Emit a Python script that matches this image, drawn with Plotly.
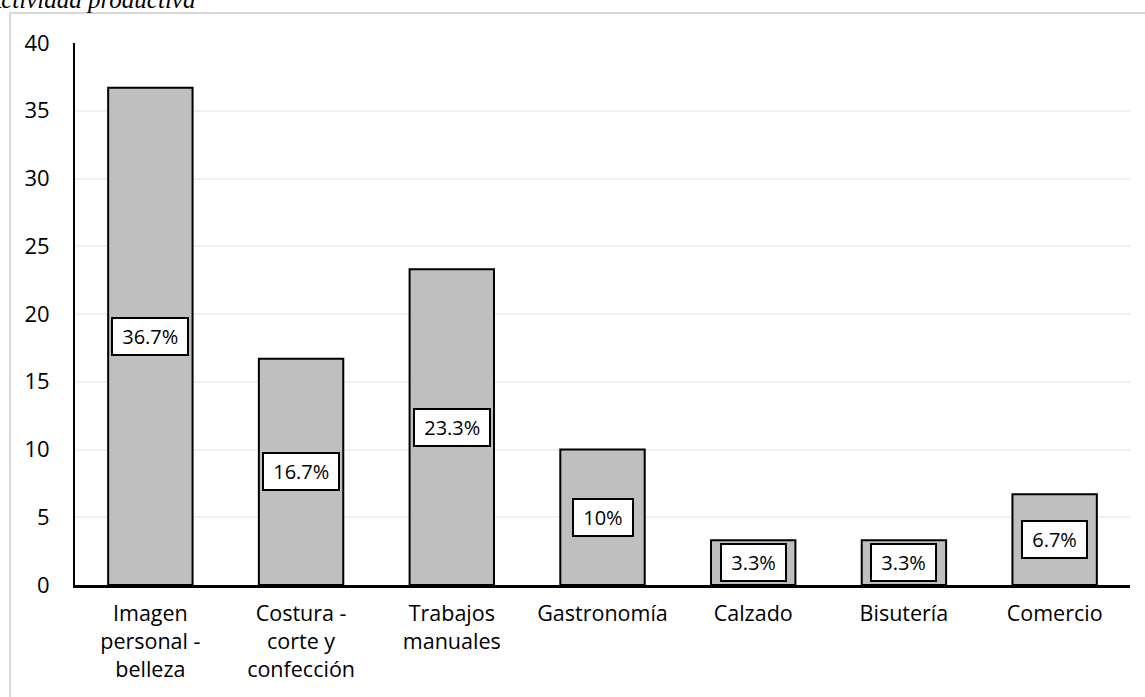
import plotly.graph_objects as go

categories = ["Imagen<br>personal -<br>belleza", "Costura -<br>corte y<br>confección",
              "Trabajos<br>manuales", "Gastronomía", "Calzado", "Bisutería", "Comercio"]
values = [36.7, 16.7, 23.3, 10, 3.3, 3.3, 6.7]
labels = ["36.7%", "16.7%", "23.3%", "10%", "3.3%", "3.3%", "6.7%"]
y_ticks = [0, 5, 10, 15, 20, 25, 30, 35, 40]
title_text = "Actividad productiva"

FONT = "Open Sans"

fig = go.Figure()
fig.add_trace(go.Bar(
    x=categories, y=values,
    marker=dict(color="#bfbfbf", line=dict(color="#000000", width=2)),
    width=0.56,
    hoverinfo="skip",
))

for c, v, t in zip(categories, values, labels):
    fig.add_annotation(
        x=c, y=v / 2, xref="x", yref="y", text="\u00a0" + t + "\u00a0", showarrow=False,
        font=dict(family=FONT, size=20, color="#000000"),
        bgcolor="#ffffff", bordercolor="#000000", borderwidth=2, borderpad=4,
    )

fig.add_annotation(
    xref="paper", yref="paper", x=-0.088, y=1.0517, xanchor="left", yanchor="bottom",
    text="<i>" + title_text + "</i>", showarrow=False,
    font=dict(family="Liberation Serif", size=25, color="#000000"),
)

fig.add_shape(type="rect", xref="paper", yref="paper",
              x0=-0.0616, y0=-0.3, x1=1.2, y1=1.0554,
              line=dict(color="#d9d9d9", width=2), fillcolor="rgba(0,0,0,0)", layer="below")

fig.update_layout(
    width=1145, height=697,
    margin=dict(l=75, r=15, t=43, b=112),
    paper_bgcolor="#ffffff", plot_bgcolor="#ffffff",
    showlegend=False,
    font=dict(family=FONT, size=21, color="#000000"),
    xaxis=dict(showline=True, linecolor="#000000", linewidth=3, showgrid=False,
               ticks="outside", ticklen=7, tickcolor="rgba(0,0,0,0)",
               tickfont=dict(family=FONT, size=21.5)),
    yaxis=dict(range=[0, 40], tickvals=y_ticks, showline=True, linecolor="#000000",
               linewidth=2, showgrid=True, gridcolor="#f0f0f0", gridwidth=2,
               zeroline=False, ticks="outside", ticklen=19, tickcolor="rgba(0,0,0,0)",
               tickfont=dict(family=FONT, size=22)),
)

fig.write_html("out.html", config={"displayModeBar": False},
               post_script="document.body.style.margin='0';document.body.style.overflow='hidden';")
